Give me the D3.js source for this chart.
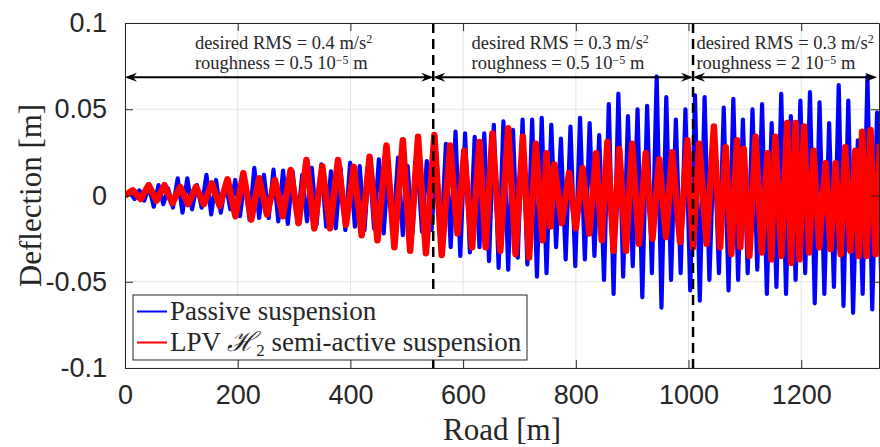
<!DOCTYPE html>
<html>
<head>
<meta charset="utf-8">
<script src="https://cdn.jsdelivr.net/npm/d3@7"></script>
<style>
body { margin: 0; background: #fff; }
text { fill: #262626; }
</style>
</head>
<body>
<script>
// passive suspension: extrema, one every 8.5 m of road
const passiveStep = 8.5
const passive = [
  0, 0.002, -0.002, 0.003, -0.003, 0.005, -0.0065, 0.006, -0.005, 0.004,
  -0.007, 0.010, -0.010, 0.010, -0.008, 0.006, -0.007, 0.012, -0.011, 0.009,
  -0.010, 0.007, -0.008, 0.009, -0.012, 0.010, -0.014, 0.016, -0.013, 0.012,
  -0.013, 0.015, -0.015, 0.0145, -0.0165, 0.014, -0.016, 0.012, -0.015, 0.016,
  -0.017, 0.018, -0.018, 0.014, -0.019, 0.016, -0.020, 0.019, -0.018, 0.017,
  -0.020, 0.020, -0.019, 0.021, -0.022, 0.018, -0.020, 0.022, -0.023, 0.017,
  -0.022, 0.022, -0.021, 0.020, -0.020, 0.024, -0.026, 0.030, -0.030, 0.037,
  -0.035, 0.036, -0.033, 0.034, -0.030, 0.036, -0.038, 0.041, -0.042, 0.043,
  -0.043, 0.038, -0.036, 0.044, -0.040, 0.044, -0.047, 0.045, -0.045, 0.041,
  -0.030, 0.033, -0.037, 0.040, -0.041, 0.045, -0.037, 0.042, -0.035, 0.035,
  -0.049, 0.053, -0.057, 0.059, -0.047, 0.046, -0.041, 0.050, -0.059, 0.052,
  -0.045, 0.069, -0.065, 0.057, -0.049, 0.044, -0.045, 0.050, -0.055, 0.058,
  -0.061, 0.057, -0.049, 0.034, -0.045, 0.051, -0.055, 0.056, -0.049, 0.044,
  -0.045, 0.050, -0.043, 0.053, -0.057, 0.042, -0.053, 0.059, -0.057, 0.046,
  -0.049, 0.055, -0.045, 0.060, -0.0625, 0.054, -0.057, 0.042, -0.053, 0.064,
  -0.064, 0.055, -0.068, 0.032, -0.057, 0.069, -0.066, 0.048, -0.0625
]

// LPV H2 semi-active: [road m, deflection m] extrema
const lpv = [
  [0,0],[14,0.003],[28,-0.002],[42,0.006],[56,-0.003],[70,0.006],[84,-0.0045],[98,0.005],
  [112,-0.005],[126,0.005],[140,-0.005],[154,0.007],[168,-0.006],[182,0.0094],[196,-0.012],
  [210,0.013],[224,-0.014],[238,0.010],[252,-0.011],[266,0.009],[280,-0.012],[294,0.0148],
  [308,-0.016],[322,0.0206],[336,-0.019],[350,0.017],[364,-0.019],[378,0.0206],[392,-0.017],
  [406,0.0167],[420,-0.023],[434,0.0225],[448,-0.026],[464,0.029],[478,-0.030],[493,0.032],
  [506,-0.032],[520,0.034],[534,-0.0335],[549,0.035],
  [562,-0.0345],[577,0.029],[590,-0.022],[602,0.026],[616,-0.030],[629,0.031],[640,-0.030],
  [652,0.036],[666,-0.032],[680,0.039],[693,-0.034],[706,0.034],[717,-0.036],[729,0.030],
  [741,-0.026],[748,0.0245],[755,-0.018],[762,0.018],[775,-0.016],[788,0.013],[800,-0.019],
  [812,0.016],[824,-0.022],[836,0.0245],[846,-0.026],[856,0.031],[867,-0.032],[877,0.027],
  [889,-0.032],[900,0.030],[912,-0.028],[924,0.0245],[936,-0.025],[948,0.021],[960,-0.024],
  [971,0.025],[985,-0.027],[998,0.032],[1008,-0.030],
  [1019,0.030],[1032,-0.028],[1045,0.040],[1056,-0.030],[1066,0.028],[1076,-0.034],[1086,0.032],
  [1092,-0.030],[1098,0.027],[1108,-0.035],[1119,0.034],[1130,-0.033],[1140,0.0245],[1147,-0.037],
  [1154,0.034],[1165,-0.035],[1175,0.042],[1182,-0.039],[1190,0.042],[1197,-0.037],[1205,0.040],
  [1214,-0.033],[1222,0.026],[1232,-0.030],[1243,0.0187],[1252,-0.031],[1261,0.0187],[1270,-0.034],
  [1278,0.028],[1287,-0.032],[1296,0.026],[1302,-0.035],[1308,0.037],[1316,-0.035],[1323,0.038],
  [1332,-0.034],[1340,0.030]
]

const xTicks = [0, 200, 400, 600, 800, 1000, 1200]
const yTicks = [-0.1, -0.05, 0, 0.05, 0.1]
const yTickLabels = ["-0.1", "-0.05", "0", "0.05", "0.1"]

// road sections (m) and their labels
const sectionEdges = [0, 547, 1008, 1338]
const noteStart = [124, 615, 1014]
const rmsText = ["0.4", "0.3", "0.3"]
const roughText = ["0.5", "0.5", "2"]

const legendNames = ["Passive suspension", "LPV H2 semi-active suspension"]
const colors = ["#0000ff", "#ff0000"]

const width = 880, height = 447
const margin = {top: 23, right: 1, bottom: 79, left: 125}
const serif = "'Liberation Serif', 'Times New Roman', serif"

const x = d3.scaleLinear().domain([0, 1338]).range([margin.left, width - margin.right])
const y = d3.scaleLinear().domain([-0.1, 0.1]).range([height - margin.bottom, margin.top])

const svg = d3.select("body").append("svg")
  .attr("width", width).attr("height", height)
  .style("font-family", "'Liberation Sans', Arial, sans-serif")

svg.append("defs").append("clipPath").attr("id", "plot")
  .append("rect")
  .attr("x", x(0)).attr("y", y(0.1))
  .attr("width", x(1338) - x(0)).attr("height", y(-0.1) - y(0.1))

// grid
svg.append("g").attr("stroke", "#e3e3e3").attr("stroke-width", 1)
  .call(g => g.selectAll(".gx").data(xTicks).join("line")
    .attr("x1", d => x(d)).attr("x2", d => x(d))
    .attr("y1", y(0.1)).attr("y2", y(-0.1)))
  .call(g => g.selectAll(".gy").data(yTicks).join("line")
    .attr("x1", x(0)).attr("x2", x(1338))
    .attr("y1", d => y(d)).attr("y2", d => y(d)))

const lines = svg.append("g").attr("clip-path", "url(#plot)").attr("fill", "none")
  .attr("stroke-linejoin", "round")

lines.append("path")
  .datum(passive)
  .attr("stroke", colors[0]).attr("stroke-width", 4.2)
  .attr("d", d3.line().x((d, i) => x(i * passiveStep)).y(d => y(d)))

lines.append("path")
  .datum(lpv)
  .attr("stroke", colors[1]).attr("stroke-width", 6.5)
  .attr("d", d3.line().x(d => x(d[0])).y(d => y(d[1])))

// section dividers
svg.append("g")
  .selectAll("line").data(sectionEdges.slice(1, 3)).join("line")
  .attr("x1", d => x(d)).attr("x2", d => x(d))
  .attr("y1", y(0.1)).attr("y2", y(-0.1))
  .attr("stroke", "#000").attr("stroke-width", 2.5).attr("stroke-dasharray", "10,6")

// axes: ticks inward on all sides
const xAxisB = d3.axisBottom(x).tickValues(xTicks).tickSize(-8).tickPadding(17)
  .tickFormat(d3.format("d")).tickSizeOuter(0)
const xAxisT = d3.axisTop(x).tickValues(xTicks).tickSize(-8).tickFormat("").tickSizeOuter(0)
const yAxisL = d3.axisLeft(y).tickValues(yTicks).tickSize(-8).tickPadding(18)
  .tickFormat((d, i) => yTickLabels[i]).tickSizeOuter(0)
const yAxisR = d3.axisRight(y).tickValues(yTicks).tickSize(-8).tickFormat("").tickSizeOuter(0)

function style(g) {
  g.select(".domain").attr("stroke", "#262626")
  g.selectAll(".tick line").attr("stroke", "#262626")
  g.selectAll(".tick text").attr("fill", "#262626").style("font-size", "27px")
    .style("font-family", "'Liberation Sans', Arial, sans-serif")
}
svg.append("g").attr("transform", `translate(0,${y(-0.1)})`).call(xAxisB).call(style)
svg.append("g").attr("transform", `translate(0,${y(0.1)})`).call(xAxisT).call(style)
svg.append("g").attr("transform", `translate(${x(0)},0)`).call(yAxisL).call(style)
svg.append("g").attr("transform", `translate(${x(1338)},0)`).call(yAxisR).call(style)

// section arrows
const arrowY = y(0.0685)
function head(px, dir) {
  // dir: +1 points right, -1 points left
  const l = 12, w = 4.5, n = 8
  return `M${px},${arrowY}L${px - dir * l},${arrowY - w}L${px - dir * n},${arrowY}L${px - dir * l},${arrowY + w}Z`
}
const arrows = svg.append("g")
sectionEdges.slice(0, 3).forEach((s, i) => {
  const a = x(s), b = x(sectionEdges[i + 1]) - (i == 2 ? 2 : 0)
  arrows.append("line").attr("x1", a + 2).attr("x2", b - 2)
    .attr("y1", arrowY).attr("y2", arrowY).attr("stroke", "#000").attr("stroke-width", 2)
  arrows.append("path").attr("d", head(a, -1)).attr("fill", "#000")
  arrows.append("path").attr("d", head(b, 1)).attr("fill", "#000")
})

// section notes
const notes = svg.append("g").style("font-family", serif).style("font-size", "18.5px")
noteStart.forEach((s, i) => {
  const t1 = notes.append("text").attr("x", x(s)).attr("y", y(0.0849))
  t1.append("tspan").text(`desired RMS = ${rmsText[i]} m/s`)
  t1.append("tspan").attr("dy", -6).style("font-size", "12px").text("2")
  const t2 = notes.append("text").attr("x", x(s)).attr("y", y(0.0733))
  t2.append("tspan").text(`roughness = ${roughText[i]} 10`)
  t2.append("tspan").attr("dy", -5).style("font-size", "12px").text("\u22125")
  t2.append("tspan").attr("dy", 5).text(" m")
})

// legend
const lg = svg.append("g").attr("transform", "translate(133,295)")
lg.append("rect").attr("width", 394).attr("height", 65)
  .attr("fill", "#fff").attr("stroke", "#262626").attr("stroke-width", 1)
legendNames.forEach((name, i) => {
  const yy = 16.5 + i * 31
  lg.append("line").attr("x1", 4).attr("x2", 34).attr("y1", yy).attr("y2", yy)
    .attr("stroke", colors[i]).attr("stroke-width", 2)
  const t = lg.append("text").attr("x", 37).attr("y", yy + 8.5)
    .style("font-family", serif).style("font-size", "27px")
  if (i == 0) t.text(name)
  else {
    t.append("tspan").text("LPV ")
    t.append("tspan").style("font-style", "italic").text("\u210B")
    t.append("tspan").attr("dy", 5).style("font-size", "17px").text("2")
    t.append("tspan").attr("dy", -5).text(" semi-active suspension")
  }
})

// axis labels
svg.append("text").attr("x", (x(0) + x(1338)) / 2).attr("y", 440)
  .attr("text-anchor", "middle")
  .style("font-family", serif).style("font-size", "31px")
  .text("Road [m]")
svg.append("text").attr("transform", `translate(41,${(y(0.1) + y(-0.1)) / 2}) rotate(-90)`)
  .attr("text-anchor", "middle")
  .style("font-family", serif).style("font-size", "31px")
  .text("Deflection [m]")
</script>
</body>
</html>
